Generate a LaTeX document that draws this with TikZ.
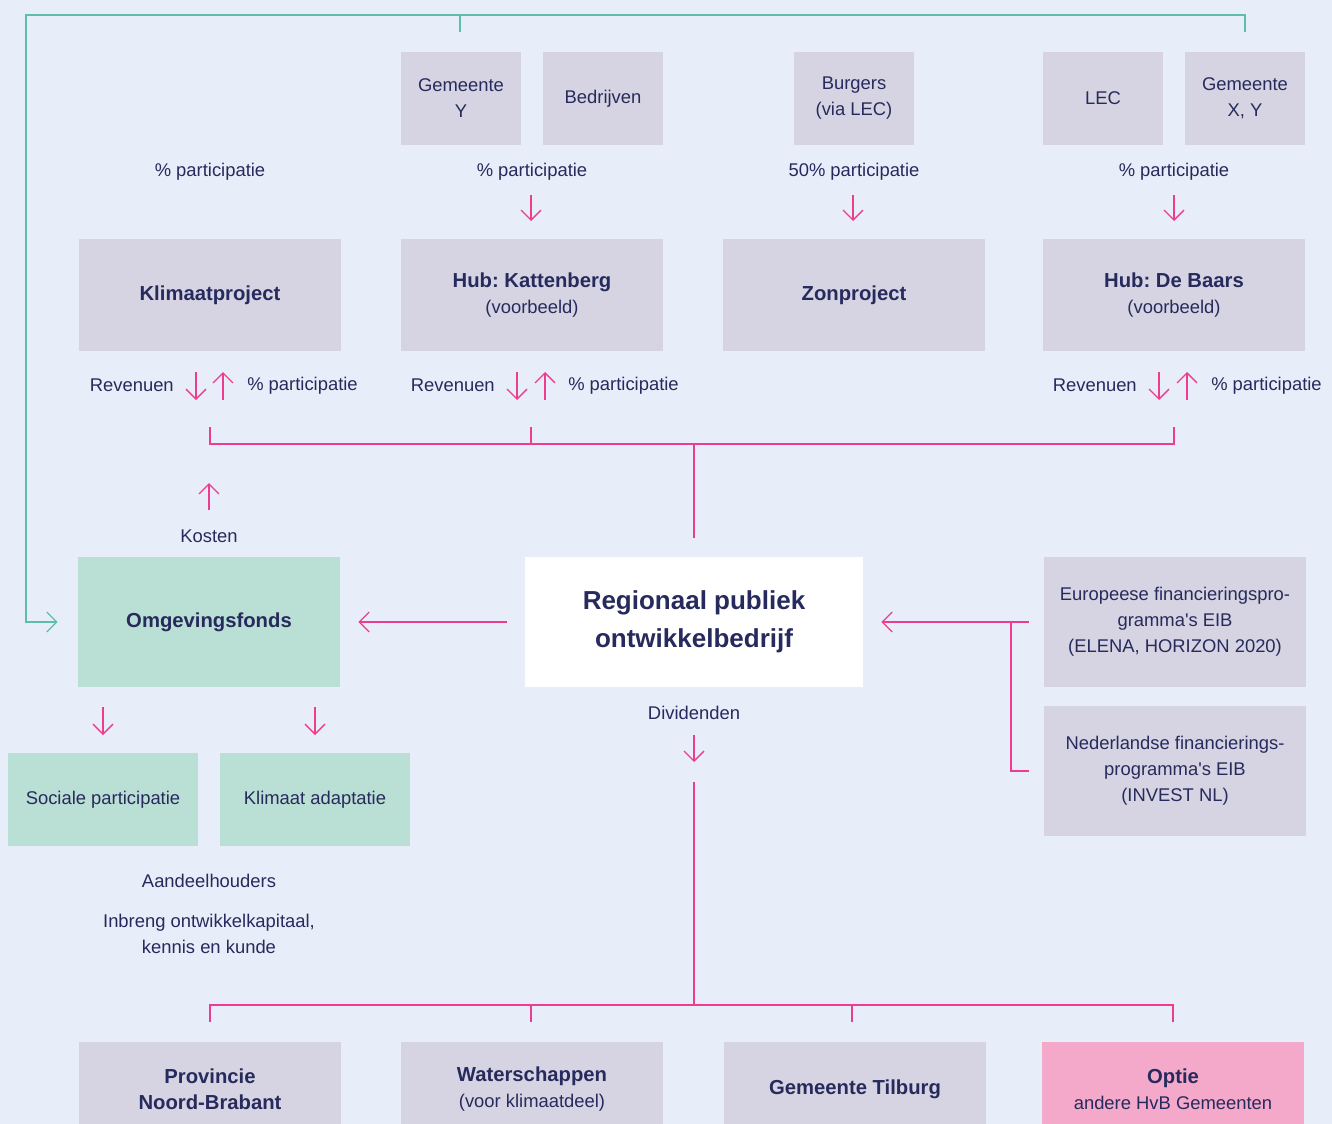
\documentclass[tikz,border=0pt]{standalone}
\usepackage{fontspec}
\setmainfont{Liberation Sans}[Ligatures=TeXOff]
\usetikzlibrary{arrows.meta}
\definecolor{bg}{HTML}{E8EEF9}
\definecolor{gbox}{HTML}{D6D4E2}
\definecolor{grn}{HTML}{BADFD4}
\definecolor{pnkbox}{HTML}{F4A8CA}
\definecolor{pk}{HTML}{EC3D8F}
\definecolor{gl}{HTML}{5DBFA7}
\definecolor{ink}{HTML}{262A5C}
\newcommand\bt{\bfseries\fontsize{15.2}{20.5}\selectfont}
\frenchspacing
\begin{document}
\begin{tikzpicture}[x=0.75pt,y=-0.75pt,
  txt/.style={text=ink, inner sep=0pt, align=center, font=\fontsize{13.8}{19.5}\selectfont},
  lbl/.style={txt, yshift=-1.2pt},
  box/.style={txt, fill=gbox, minimum width=#1},
  box/.default=196.5pt,
  small/.style={box=90pt, minimum height=69.75pt},
  mid/.style={box=196.5pt, minimum height=84pt},
  big/.style={box=196.5pt, minimum height=97.5pt},
  pline/.style={draw=pk, line width=1pt},
  parrow/.style={pline, -{Straight Barb[length=7.5pt,width=15pt,line width=1pt]}},
  gline/.style={draw=gl, line width=1pt},
  garrow/.style={gline, -{Straight Barb[length=7.5pt,width=15pt,line width=1pt]}},
]
\fill[bg] (0,0) rectangle (1332,1124);
\useasboundingbox (0,0) rectangle (1332,1124);

% top small boxes
\node[small] (gy) at (461,98.5) {Gemeente\\Y};
\node[small] (bed) at (603,98.5) {Bedrijven};
\node[small] (burg) at (854,98.5) {Burgers\\(via LEC)};
\node[small] (lec) at (1103,98.5) {LEC};
\node[small] (gxy) at (1245,98.5) {Gemeente\\X, Y};

% participatie labels
\node[lbl] (p1) at (210,170) {\% participatie};
\node[lbl] (p2) at (532,170) {\% participatie};
\node[lbl] (p3) at (854,170) {50\% participatie};
\node[lbl] (p4) at (1174,170) {\% participatie};

\coordinate (a2s) at (531,195); \coordinate (a2e) at (531,221);
\coordinate (a3s) at (853,195); \coordinate (a3e) at (853,221);
\coordinate (a4s) at (1174,195); \coordinate (a4e) at (1174,221);
\draw[parrow] (a2s) -- (a2e);
\draw[parrow] (a3s) -- (a3e);
\draw[parrow] (a4s) -- (a4e);

% project boxes
\node[mid] (klim) at (210,295) {\bt Klimaatproject};
\node[mid] (kat) at (532,295) {{\bt Hub: Kattenberg}\\(voorbeeld)};
\node[mid] (zon) at (854,295) {\bt Zonproject};
\node[mid] (baars) at (1174,295) {{\bt Hub: De Baars}\\(voorbeeld)};

% revenuen rows
\node[lbl, anchor=east] (r1) at (174,384) {Revenuen};
\node[lbl, anchor=west] (q1) at (247,384) {\% participatie};
\node[lbl, anchor=east] (r2) at (495,384) {Revenuen};
\node[lbl, anchor=west] (q2) at (568,384) {\% participatie};
\node[lbl, anchor=east] (r3) at (1137,384) {Revenuen};
\node[lbl, anchor=west] (q3) at (1211,384) {\% participatie};
\foreach \d/\u [count=\i] in {196/223, 517/545, 1159/1187}{
  \coordinate (dt\i) at (\d,372); \coordinate (db\i) at (\d,400);
  \coordinate (ut\i) at (\u,372); \coordinate (ub\i) at (\u,400);
  \draw[parrow] (dt\i) -- (db\i);
  \draw[parrow] (ub\i) -- (ut\i);
}

% top bracket
\coordinate (bk1) at (210,427); \coordinate (bk2) at (531,427); \coordinate (bk3) at (1174,427);
\coordinate (bkm) at (694,444); \coordinate (bkd) at (694,538);
\draw[pline] (bk1) -- (210,444) -- (1174,444) -- (bk3);
\draw[pline] (bk2) -- (531,444);
\draw[pline] (bkm) -- (bkd);

% Kosten
\coordinate (ks) at (209,510); \coordinate (ke) at (209,483);
\draw[parrow] (ks) -- (ke);
\node[lbl] (kosten) at (209,535) {Kosten};

% middle row
\node[box=196.5pt, minimum height=97.5pt, fill=grn] (omg) at (209,622) {\bt Omgevingsfonds};
\node[box=253.5pt, minimum height=97.5pt, fill=white, font=\fontsize{19.5}{28.5}\selectfont\bfseries] (rpo) at (694,622) {Regionaal publiek\\ontwikkelbedrijf};
\node[big] (eu) at (1175,622) {Europeese financieringspro-\\gramma's EIB\\(ELENA, HORIZON 2020)};
\node[big] (nl) at (1175,771) {Nederlandse financierings-\\programma's EIB\\(INVEST NL)};

\draw[parrow] ([xshift=-13.5pt]rpo.west) -- ([xshift=13.5pt]omg.east);
\coordinate (ej) at (1011,622);
\draw[parrow] ([xshift=-11pt]eu.west) -- ([xshift=13.5pt]rpo.east);
\draw[pline] (ej) -- (1011,771) -- ([xshift=-11pt]nl.west);

% green line
\coordinate (g1) at (460,32); \coordinate (g2) at (1245,32);
\draw[garrow] (g1) -- (460,15) -- (26,15) -- (26,622) -- ([xshift=-15pt]omg.west);
\draw[gline] (460,15) -- (1245,15) -- (g2);

% below omgevingsfonds
\coordinate (o1s) at (103,707); \coordinate (o1e) at (103,735);
\coordinate (o2s) at (315,707); \coordinate (o2e) at (315,735);
\draw[parrow] (o1s) -- (o1e);
\draw[parrow] (o2s) -- (o2e);
\node[box=142.5pt, minimum height=69.75pt, fill=grn] (soc) at (103,799.5) {Sociale participatie};
\node[box=142.5pt, minimum height=69.75pt, fill=grn] (kad) at (315,799.5) {Klimaat adaptatie};

\node[lbl] (aand) at (209,879) {Aandeelhouders};
\node[lbl] (inb) at (209,932) {Inbreng ontwikkelkapitaal,\\kennis en kunde};

% dividenden
\node[lbl] (div) at (694,711) {Dividenden};
\coordinate (ds) at (694,735); \coordinate (de) at (694,762);
\draw[parrow] (ds) -- (de);
\coordinate (dl) at (694,782);
\draw[pline] (dl) -- (694,1005);
\draw[pline] (210,1022) -- (210,1005) -- (1173,1005) -- (1173,1022);
\draw[pline] (531,1005) -- (531,1022);
\draw[pline] (852,1005) -- (852,1022);

% bottom boxes
\node[box=196.5pt, minimum height=70.5pt] (prov) at (210,1089) {\bt Provincie\\\bt Noord-Brabant};
\node[box=196.5pt, minimum height=70.5pt] (ws) at (532,1089) {{\bt Waterschappen}\\(voor klimaatdeel)};
\node[box=196.5pt, minimum height=70.5pt] (til) at (855,1089) {\bt Gemeente Tilburg};
\node[box=196.5pt, minimum height=70.5pt, fill=pnkbox] (opt) at (1173,1089) {{\bt Optie}\\andere HvB Gemeenten};
\end{tikzpicture}
\end{document}
